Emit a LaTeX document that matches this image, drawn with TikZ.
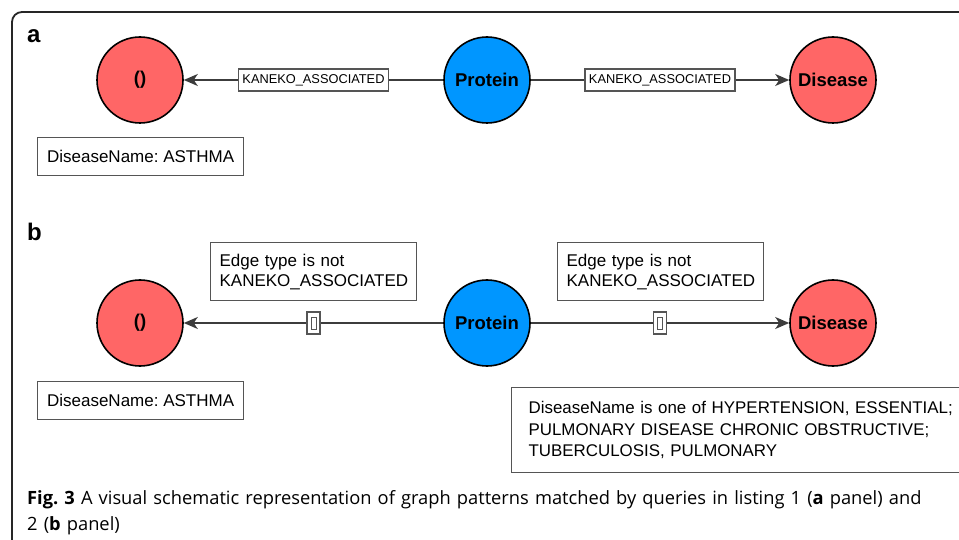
\documentclass[tikz,border=0pt]{standalone}
\usepackage{fontspec}
\setmainfont{Liberation Sans}
\newfontfamily\capfont{Open Sans}
\usetikzlibrary{arrows.meta}
\frenchspacing
\definecolor{redc}{RGB}{255,102,102}
\definecolor{bluec}{RGB}{0,150,255}
\definecolor{boxc}{RGB}{85,85,85}
\definecolor{edgec}{RGB}{60,60,60}
\tikzset{
  disc/.style={circle, draw=black, line width=1.6pt, minimum size=86pt, inner sep=0pt, font=\fontsize{18.5}{20}\selectfont\bfseries},
  edge/.style={draw=edgec, line width=1.3pt, -{Stealth[length=14pt,width=12pt,inset=4pt]}},
  elabel/.style={draw=boxc, fill=white, line width=1.2pt, minimum width=150pt, minimum height=22pt, inner sep=1pt, font=\fontsize{12.8}{14}\selectfont},
  infobox/.style={draw=boxc, fill=white, line width=1.2pt, align=left, inner xsep=9pt, font=\fontsize{17}{20}\selectfont},
  tinybox/.style={draw=boxc, fill=white, line width=1.1pt, minimum width=13pt, minimum height=22pt, inner sep=0pt},
  tinyin/.style={draw=boxc, line width=0.9pt, minimum width=5pt, minimum height=12pt, inner sep=0pt},
  plabel/.style={font=\fontsize{24}{26}\selectfont\bfseries, inner sep=0pt}
}
\begin{document}
\begin{tikzpicture}[x=1pt,y=-1pt]
\useasboundingbox (0,0) rectangle (959,540);
\begin{scope}
\clip (0,0) rectangle (959,540);
\draw[line width=1.8pt, draw=black!85, rounded corners=10pt] (12,12) rectangle (990,580);
\node[infobox, anchor=north west, minimum height=85pt, minimum width=470pt, text width=440pt, inner xsep=17pt, font=\fontsize{16.9}{21.5}\selectfont] (bbig) at (511,387) {DiseaseName is one of HYPERTENSION, ESSENTIAL;\\PULMONARY DISEASE CHRONIC OBSTRUCTIVE;\\TUBERCULOSIS, PULMONARY};
\end{scope}
% panel a
\node[plabel, anchor=base west] (la) at (27,43) {a};
\node[disc, fill=redc] (a1) at (140,80) {()};
\node[disc, fill=bluec] (a2) at (487,80) {Protein};
\node[disc, fill=redc] (a3) at (833,80) {Disease};
\draw[edge] (a2) -- node[elabel] (ae1) {KANEKO\_ASSOCIATED} (a1);
\draw[edge] (a2) -- node[elabel] (ae2) {KANEKO\_ASSOCIATED} (a3);
\node[infobox, anchor=north west, minimum width=206pt, minimum height=38pt] (ainfo) at (37,137) {DiseaseName: ASTHMA};
% panel b
\node[plabel, anchor=base west] (lb) at (27,241) {b};
\node[disc, fill=redc] (b1) at (140,323) {()};
\node[disc, fill=bluec] (b2) at (487,323) {Protein};
\node[disc, fill=redc] (b3) at (833,323) {Disease};
\draw[edge] (b2) -- node[tinybox] (be1) {} (b1);
\draw[edge] (b2) -- node[tinybox] (be2) {} (b3);
\node[tinyin] (be1i) at (be1) {};
\node[tinyin] (be2i) at (be2) {};
\node[infobox, anchor=north west, minimum width=206pt, minimum height=58pt, text width=188pt] (bt1) at (210,242) {Edge type is not\\KANEKO\_ASSOCIATED};
\node[infobox, anchor=north west, minimum width=206pt, minimum height=58pt, text width=188pt] (bt2) at (557,242) {Edge type is not\\KANEKO\_ASSOCIATED};
\node[infobox, anchor=north west, minimum width=206pt, minimum height=38pt] (binfo) at (37,381) {DiseaseName: ASTHMA};
% caption
\node[anchor=north west, align=left, inner sep=0pt, text width=925pt, font=\capfont\fontsize{18.3}{26}\selectfont] (cap) at (27,490) {\textbf{Fig.\ 3} A visual schematic representation of graph patterns matched by queries in listing 1 (\textbf{a} panel) and\\2 (\textbf{b} panel)};
\end{tikzpicture}
\end{document}
